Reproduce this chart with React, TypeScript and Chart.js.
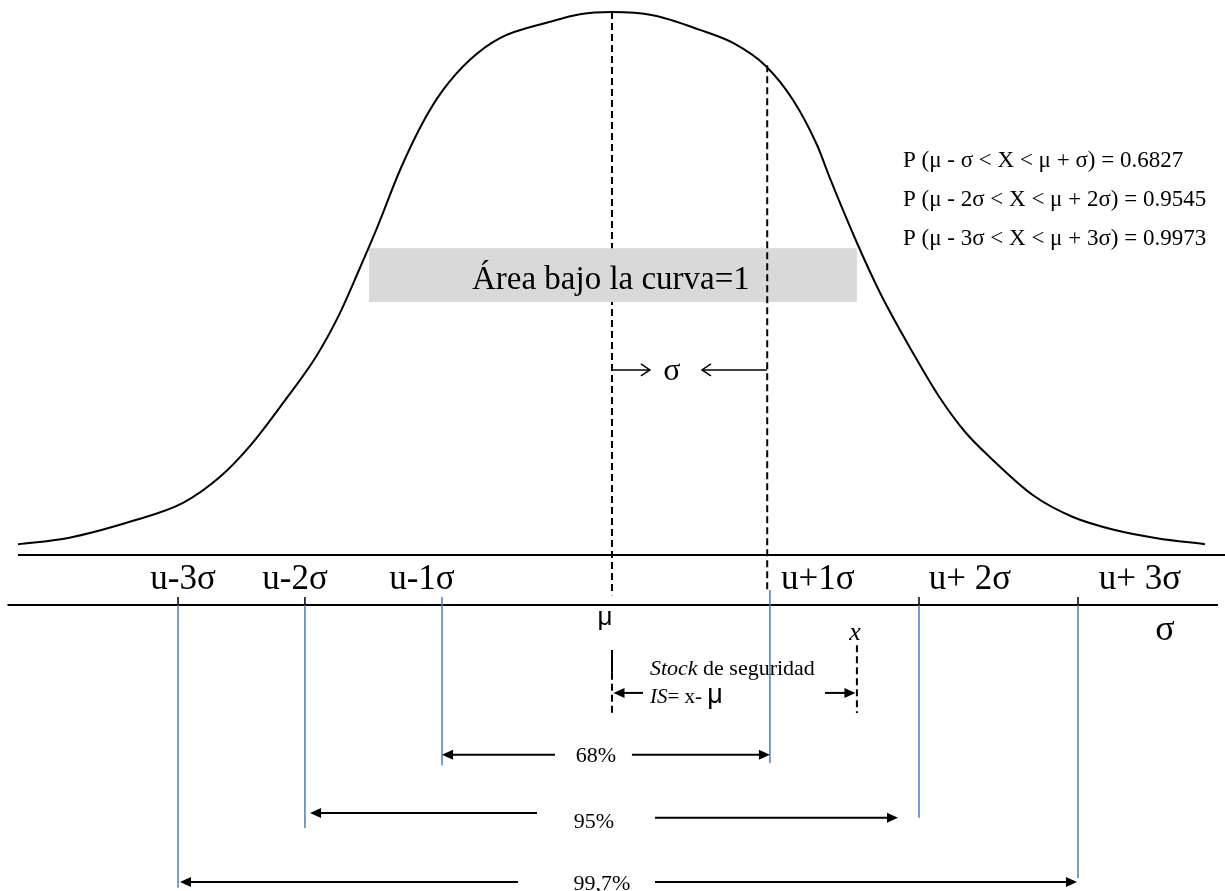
import { useEffect, useRef } from 'react';
import { Chart, registerables } from 'chart.js';

Chart.register(...registerables);

// Bell curve, x in sigma units (mean = 0), height normalised to the peak.
const curveZ = [
  -3.96, -3.633, -3.193, -2.86, -2.613, -2.413, -2.193, -1.967, -1.813, -1.68, -1.567, -1.413,
  -1.26, -1.127, -0.947, -0.747, -0.413, -0.213, 0, 0.273, 0.587, 0.807, 1.02, 1.207, 1.367,
  1.453, 1.633, 1.787, 2.007, 2.187, 2.353, 2.52, 2.807, 3.073, 3.353, 3.633, 3.953,
];
const curveH = [
  0.02, 0.031, 0.063, 0.096, 0.144, 0.201, 0.28, 0.368, 0.446, 0.529, 0.602, 0.709,
  0.797, 0.856, 0.912, 0.952, 0.982, 0.996, 1.0, 0.994, 0.967, 0.943, 0.902, 0.838, 0.755,
  0.694, 0.575, 0.483, 0.372, 0.289, 0.227, 0.18, 0.11, 0.07, 0.046, 0.031, 0.02,
];

// Sigma marks on the lower axis and their captions.
const sigmaMarks = [-2.893, -2.047, -1.133, 1.053, 2.047, 3.107];
const sigmaLabels = ['u-3σ', 'u-2σ', 'u-1σ', 'u+1σ', 'u+ 2σ', 'u+ 3σ'];
const sigmaLabelZ = [-2.86, -2.113, -1.267, 1.373, 2.387, 3.52];
// Lower ends of the blue drop lines, same order as sigmaMarks.
const dropEnds = [-0.613, -0.503, -0.387, -0.383, -0.484, -0.595];

const coverageLabels = ['68%', '95%', '99,7%'];
const probLines = [
  'P (μ - σ < X < μ + σ) = 0.6827',
  'P (μ - 2σ < X < μ + 2σ) = 0.9545',
  'P (μ - 3σ < X < μ + 3σ) = 0.9973',
];
const stockZ = 1.633;

const SERIF = '"Liberation Serif", "Times New Roman", serif';
const SANS = '"Liberation Sans", Arial, sans-serif';
const BLUE = '#4a7ebb';

function line(ctx: CanvasRenderingContext2D, x1: number, y1: number, x2: number, y2: number) {
  ctx.beginPath();
  ctx.moveTo(x1, y1);
  ctx.lineTo(x2, y2);
  ctx.stroke();
}

function dashed(ctx: CanvasRenderingContext2D, x1: number, y1: number, x2: number, y2: number) {
  ctx.save();
  ctx.setLineDash([7, 4]);
  ctx.lineWidth = 2;
  ctx.strokeStyle = '#000';
  line(ctx, x1, y1, x2, y2);
  ctx.restore();
}

// Solid arrow with a filled triangular head at (x2, y2).
function arrow(ctx: CanvasRenderingContext2D, x1: number, y1: number, x2: number, y2: number) {
  const ang = Math.atan2(y2 - y1, x2 - x1);
  const len = 11;
  const w = 5;
  ctx.save();
  ctx.lineWidth = 2;
  ctx.strokeStyle = '#000';
  ctx.fillStyle = '#000';
  line(ctx, x1, y1, x2 - Math.cos(ang) * (len - 2), y2 - Math.sin(ang) * (len - 2));
  ctx.beginPath();
  ctx.moveTo(x2, y2);
  ctx.lineTo(x2 - Math.cos(ang) * len - Math.sin(ang) * w, y2 - Math.sin(ang) * len + Math.cos(ang) * w);
  ctx.lineTo(x2 - Math.cos(ang) * len + Math.sin(ang) * w, y2 - Math.sin(ang) * len - Math.cos(ang) * w);
  ctx.closePath();
  ctx.fill();
  ctx.restore();
}

// Thin arrow with an open chevron head.
function thinArrow(ctx: CanvasRenderingContext2D, x1: number, y: number, x2: number) {
  const dir = Math.sign(x2 - x1);
  ctx.save();
  ctx.lineWidth = 1.5;
  ctx.strokeStyle = '#000';
  line(ctx, x1, y, x2, y);
  ctx.beginPath();
  ctx.moveTo(x2 - dir * 9, y - 6);
  ctx.lineTo(x2, y);
  ctx.lineTo(x2 - dir * 9, y + 6);
  ctx.stroke();
  ctx.restore();
}

// Writes a run of differently styled pieces starting at x.
function runs(ctx: CanvasRenderingContext2D, x: number, y: number, pieces: [string, string][]) {
  let cx = x;
  for (const [font, txt] of pieces) {
    ctx.font = font;
    ctx.fillText(txt, cx, y);
    cx += ctx.measureText(txt).width;
  }
}

const overlay = {
  id: 'normalOverlay',
  beforeDatasetsDraw(chart: any) {
    const { ctx, scales } = chart;
    const X = (v: number) => scales.x.getPixelForValue(v);
    const Y = (v: number) => scales.y.getPixelForValue(v);
    ctx.save();
    // mean line, partly hidden by the caption band
    dashed(ctx, X(0), Y(1.0), X(0), Y(-0.074));
    // caption band
    ctx.fillStyle = '#d9d9d9';
    ctx.fillRect(X(-1.62), Y(0.565), X(1.633) - X(-1.62), Y(0.466) - Y(0.565));
    ctx.fillStyle = '#000';
    ctx.font = `33px ${SERIF}`;
    ctx.textAlign = 'center';
    ctx.textBaseline = 'alphabetic';
    ctx.fillText('Área bajo la curva=1', X(-0.007), Y(0.49));
    // one-sigma guide
    dashed(ctx, X(1.035), Y(0.902), X(1.035), Y(-0.0645));
    ctx.restore();
  },
  afterDatasetsDraw(chart: any) {
    const { ctx, scales } = chart;
    const X = (v: number) => scales.x.getPixelForValue(v);
    const Y = (v: number) => scales.y.getPixelForValue(v);
    ctx.save();
    ctx.fillStyle = '#000';
    ctx.strokeStyle = '#000';

    // sigma width indicator
    const ys = Y(0.3407);
    thinArrow(ctx, X(0), ys, X(0.253));
    thinArrow(ctx, X(1.033), ys, X(0.6));
    ctx.font = `32px ${SERIF}`;
    ctx.textAlign = 'center';
    ctx.fillText('σ', X(0.4), Y(0.322));

    // probability statements
    ctx.font = `23px ${SERIF}`;
    ctx.textAlign = 'left';
    const probH = [0.7145, 0.6427, 0.571];
    probLines.forEach((t, i) => ctx.fillText(t, X(1.94), Y(probH[i])));

    // the two axis lines
    ctx.lineWidth = 2;
    line(ctx, X(-3.96), Y(0), X(4.09), Y(0));
    line(ctx, X(-4.03), Y(-0.0921), X(4.04), Y(-0.0921));

    // sigma captions
    ctx.font = `35px ${SERIF}`;
    ctx.textAlign = 'center';
    sigmaLabels.forEach((t, i) => ctx.fillText(t, X(sigmaLabelZ[i]), Y(-0.0627)));

    // ticks and blue drop lines
    sigmaMarks.forEach((z, i) => {
      const outer = Math.abs(z) > 1.5;
      if (outer) {
        ctx.strokeStyle = '#000';
        ctx.lineWidth = 1.5;
        line(ctx, X(z), Y(-0.0773), X(z), Y(-0.0921));
      }
      ctx.strokeStyle = BLUE;
      ctx.lineWidth = 1.5;
      const top = outer ? -0.0921 : z > 0 ? -0.0645 : -0.0773;
      line(ctx, X(z), Y(top), X(z), Y(dropEnds[i]));
    });

    // mean and sigma symbols under the axis
    ctx.fillStyle = '#000';
    ctx.font = `26px ${SANS}`;
    ctx.fillText('μ', X(-0.047), Y(-0.129));
    ctx.font = `36px ${SERIF}`;
    ctx.fillText('σ', X(3.687), Y(-0.1565));
    ctx.font = `italic 26px ${SERIF}`;
    ctx.fillText('x', X(1.62), Y(-0.157));

    // safety stock bracket
    ctx.strokeStyle = '#000';
    ctx.lineWidth = 2;
    line(ctx, X(0), Y(-0.175), X(0), Y(-0.217));
    dashed(ctx, X(0), Y(-0.217), X(0), Y(-0.291));
    dashed(ctx, X(stockZ), Y(-0.166), X(stockZ), Y(-0.291));
    arrow(ctx, X(0.207), Y(-0.254), X(0.01), Y(-0.254));
    arrow(ctx, X(1.42), Y(-0.254), X(stockZ - 0.01), Y(-0.254));
    ctx.textAlign = 'left';
    runs(ctx, X(0.253), Y(-0.221), [
      [`italic 22px ${SERIF}`, 'Stock'],
      [`22px ${SERIF}`, ' de seguridad'],
    ]);
    runs(ctx, X(0.253), Y(-0.2726), [
      [`italic 21px ${SERIF}`, 'IS'],
      [`21px ${SERIF}`, '= x- '],
      [`27px ${SANS}`, 'μ'],
    ]);

    // coverage ranges
    arrow(ctx, X(-0.38), Y(-0.368), X(-1.133), Y(-0.368));
    arrow(ctx, X(0.133), Y(-0.368), X(1.053), Y(-0.368));
    arrow(ctx, X(-0.5), Y(-0.475), X(-2.013), Y(-0.475));
    arrow(ctx, X(0.287), Y(-0.484), X(1.907), Y(-0.484));
    arrow(ctx, X(-0.627), Y(-0.602), X(-2.88), Y(-0.602));
    arrow(ctx, X(0.287), Y(-0.602), X(3.1), Y(-0.602));
    ctx.font = `22px ${SERIF}`;
    ctx.textAlign = 'center';
    const covZ = [-0.107, -0.12, -0.067];
    const covH = [-0.381, -0.503, -0.617];
    coverageLabels.forEach((t, i) => ctx.fillText(t, X(covZ[i]), Y(covH[i])));
    ctx.restore();
  },
};

export default function App() {
  const ref = useRef<HTMLCanvasElement | null>(null);
  useEffect(() => {
    if (!ref.current) return;
    const chart = new Chart(ref.current, {
      type: 'scatter',
      data: {
        datasets: [
          {
            data: curveZ.map((z, i) => ({ x: z, y: curveH[i] })),
            showLine: true,
            borderColor: '#000',
            borderWidth: 2,
            pointRadius: 0,
            cubicInterpolationMode: 'monotone',
            fill: false,
          },
        ],
      },
      options: {
        animation: false,
        responsive: true,
        maintainAspectRatio: false,
        layout: { padding: 0 },
        plugins: { legend: { display: false }, tooltip: { enabled: false } },
        scales: {
          x: { type: 'linear', display: false, min: -4.08, max: 4.087 },
          y: { type: 'linear', display: false, min: -0.6188, max: 1.0221 },
        },
      },
      plugins: [overlay],
    });
    return () => chart.destroy();
  }, []);
  return (
    <div style={{ position: 'absolute', left: 0, top: 0, width: 1225, height: 891, background: '#fff' }}>
      <canvas ref={ref} />
    </div>
  );
}
